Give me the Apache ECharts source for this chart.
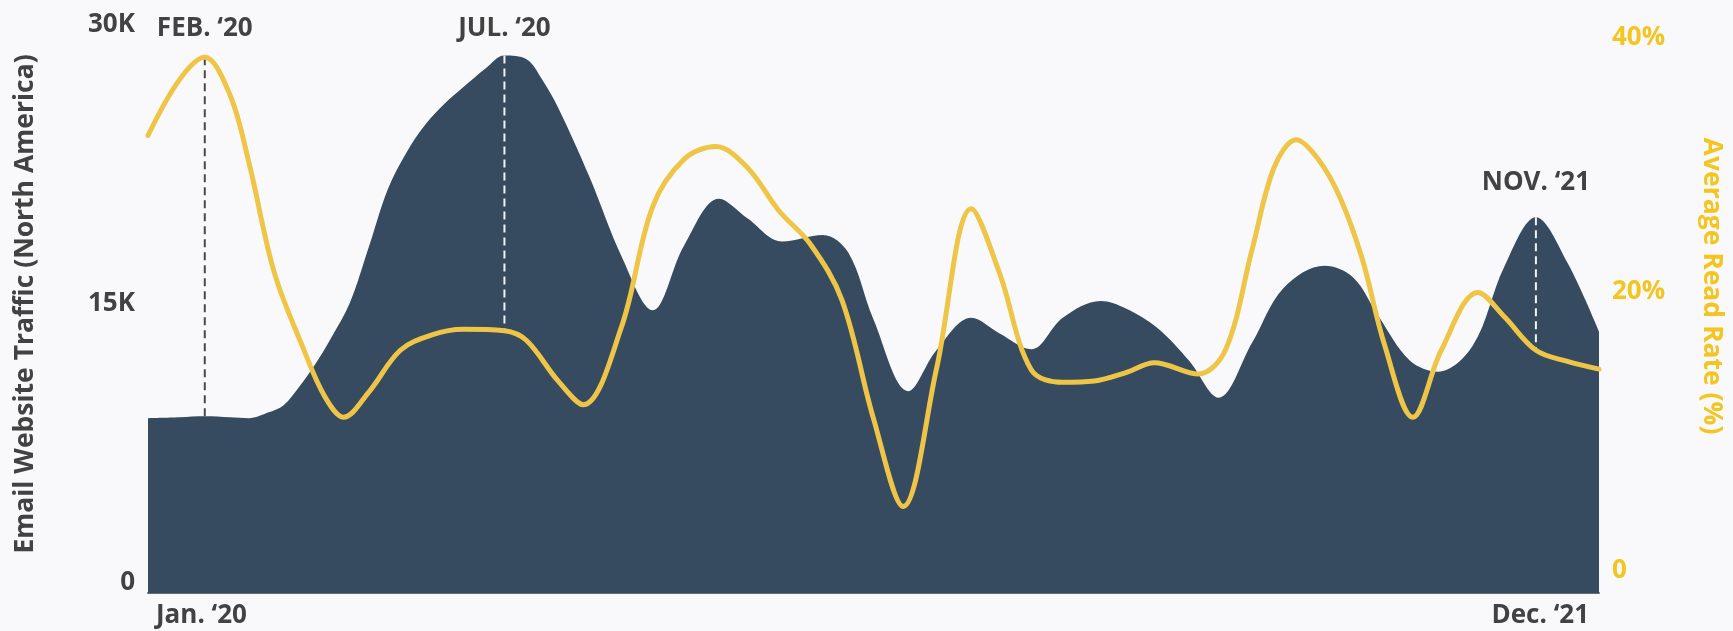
<!DOCTYPE html>
<html>
<head>
<meta charset="utf-8">
<script src="https://cdn.jsdelivr.net/npm/echarts@6/dist/echarts.min.js"></script>
<style>
  html, body { margin: 0; padding: 0; background: #f9f9fb; }
  #chart { width: 1733px; height: 631px; }
</style>
</head>
<body>
<div id="chart"></div>
<script>
// Month index: 0 = Jan. 2020 ... 23 = Dec. 2021
const trafficMonths = [0, 0.5, 0.9, 1.3, 1.6, 1.9, 2.15, 2.4, 2.65, 2.9, 3.2, 3.5, 3.8, 4.1, 4.4, 4.7, 5, 5.35, 5.65, 6, 6.25, 6.5, 7, 7.5, 8, 8.5, 9.05, 9.5, 10.05, 10.7, 11.1, 11.5, 12.05, 12.5, 13.05, 13.5, 14, 14.5, 15.1, 15.5, 16, 16.5, 16.97, 17.5, 18, 18.65, 19.1, 19.5, 20, 20.45, 21, 21.5, 22, 22.5, 23];
// Email website traffic (North America), visits
const trafficValues = [9400, 9450, 9500, 9450, 9400, 9700, 10100, 11100, 12300, 13700, 15600, 18600, 21700, 23700, 25200, 26300, 27200, 28200, 28900, 28700, 27600, 26100, 22350, 18150, 15200, 18700, 21200, 20150, 18900, 19250, 18300, 14700, 10850, 13070, 14800, 13950, 13100, 14800, 15700, 15300, 14250, 12500, 10500, 13450, 16400, 17600, 16980, 14900, 12500, 11900, 13300, 17550, 20200, 17750, 14050];

const rateMonths = [0, 0.5, 0.9, 1.3, 1.6, 2.0, 2.45, 2.8, 3.1, 3.5, 4, 4.5, 5, 5.65, 6, 6.5, 6.9, 7.5, 8, 8.5, 9, 9.5, 10, 10.5, 11, 11.5, 11.97, 12.5, 13.05, 13.5, 14, 14.5, 15, 15.5, 15.95, 16.65, 17.08, 17.5, 17.85, 18.2, 18.55, 18.9, 19.25, 19.6, 20.05, 20.5, 21.08, 21.5, 22, 22.5, 23];
// Average read rate, percent
const rateValues = [32.8, 36.8, 38.4, 35.7, 30.85, 23.0, 17.66, 14.1, 12.6, 14.4, 17.4, 18.5, 18.9, 18.8, 18.1, 15.2, 13.5, 19.0, 27.7, 31.1, 32.0, 30.5, 27.4, 25.0, 21.0, 12.5, 6.2, 16.1, 27.55, 22.9, 16.0, 15.1, 15.2, 15.8, 16.5, 15.7, 17.43, 24.6, 30.5, 32.5, 31.1, 28.3, 23.9, 17.8, 12.6, 17.4, 21.55, 19.8, 17.4, 16.6, 16.05];

const xTickLabels = ['Jan. \u201820', 'Dec. \u201821'];
const trafficTicks = ['0', '15K', '30K'];
const rateTicks = ['0', '20%', '40%'];
const calloutLabels = ['FEB. \u201820', 'JUL. \u201820', 'NOV. \u201821'];
const calloutMonths = [0.9, 5.65, 22];

const NAVY = '#364b5f';
const GOLD = '#efc547';
const GOLD_TEXT = '#f4c520';
const INK = '#424242';
const FONT = '"Open Sans", "Noto Sans", sans-serif';
const LABEL_SIZE = 26;
const TITLE_SIZE = 26.5;

const chart = echarts.init(document.getElementById('chart'), null, { renderer: 'canvas' });

const pairs = (xs, ys) => xs.map((x, i) => [x, ys[i]]);
const tickText = (color, padding) => ({ fontFamily: FONT, fontWeight: 'bold', fontSize: LABEL_SIZE, color, padding });

chart.setOption({
  backgroundColor: '#f9f9fb',
  animation: false,
  grid: { left: 148, right: 128, top: 35, bottom: 38 },
  xAxis: {
    type: 'value', min: 0, max: 23, interval: 23,
    axisLine: { show: true, lineStyle: { color: '#6b6b6b', width: 2 } },
    axisTick: { show: false },
    splitLine: { show: false },
    axisLabel: {
      margin: 10,
      alignMinLabel: 'left', alignMaxLabel: 'right',
      formatter: v => v === 0 ? '{l|' + xTickLabels[0] + '}' : '{r|' + xTickLabels[1] + '}',
      rich: {
        l: tickText(INK, [0, 0, 0, 8]),
        r: tickText(INK, [0, 10, 0, 0])
      }
    }
  },
  yAxis: [
    {
      type: 'value', min: 0, max: 30000, interval: 15000, position: 'left',
      name: 'Email Website Traffic (North America)',
      nameLocation: 'middle', nameRotate: 90, nameGap: 109,
      nameTextStyle: { fontFamily: FONT, fontWeight: 'bold', fontSize: TITLE_SIZE, color: INK, padding: [0, 0, 0, 20] },
      axisLine: { show: false }, axisTick: { show: false }, splitLine: { show: false },
      axisLabel: {
        margin: 13,
        formatter: v => '{t|' + trafficTicks[Math.round(v / 15000)] + '}',
        rich: { t: tickText(INK, [0, 0, 20, 0]) }
      }
    },
    {
      type: 'value', min: 0, max: 40, interval: 20, position: 'right',
      name: 'Average Read Rate (%)',
      nameLocation: 'middle', nameRotate: -90, nameGap: 99,
      nameTextStyle: { fontFamily: FONT, fontWeight: 'bold', fontSize: TITLE_SIZE, color: GOLD_TEXT, padding: [0, 56, 0, 0] },
      axisLine: { show: false }, axisTick: { show: false }, splitLine: { show: false },
      axisLabel: {
        margin: 13,
        formatter: v => v === 40 ? '{hi|' + rateTicks[2] + '}' : '{lo|' + rateTicks[Math.round(v / 20)] + '}',
        rich: {
          hi: tickText(GOLD_TEXT, [5, 0, 0, 0]),
          lo: tickText(GOLD_TEXT, [0, 0, 45, 0])
        }
      }
    }
  ],
  series: [
    {
      name: 'Email Website Traffic', type: 'line', yAxisIndex: 0, z: 1,
      data: pairs(trafficMonths, trafficValues),
      smooth: 0.35, symbol: 'none',
      lineStyle: { width: 0 },
      areaStyle: { color: NAVY, opacity: 1 }
    },
    {
      name: 'Average Read Rate', type: 'line', yAxisIndex: 1, z: 5,
      data: pairs(rateMonths, rateValues),
      smooth: 0.35, symbol: 'none',
      lineStyle: { color: GOLD, width: 5, cap: 'round', join: 'round' }
    }
  ]
});

// Callouts: dashed connector between the two curves plus a month label
function drawCallouts() {
  const elements = [];
  const gridTop = 35;
  calloutMonths.forEach((m, i) => {
    const tv = trafficValues[trafficMonths.indexOf(m)];
    const rv = rateValues[rateMonths.indexOf(m)];
    const pT = chart.convertToPixel({ seriesIndex: 0 }, [m, tv]);
    const pR = chart.convertToPixel({ seriesIndex: 1 }, [m, rv]);
    const rateAbove = pR[1] < pT[1];
    elements.push({
      type: 'line', z: 3,
      shape: { x1: pT[0], y1: pT[1], x2: pT[0], y2: pR[1] },
      style: { stroke: rateAbove ? '#4a4a4a' : '#f2f2f2', lineWidth: 2, lineDash: [8, 5] }
    });
    const labelY = (i === calloutMonths.length - 1) ? pT[1] - 35 : gridTop - 6;
    elements.push({
      type: 'text', z: 6, x: pT[0], y: labelY,
      style: {
        text: calloutLabels[i], fill: INK,
        font: 'bold ' + LABEL_SIZE + 'px ' + FONT,
        align: 'center', verticalAlign: 'middle',
        textAlign: 'center', textVerticalAlign: 'middle'
      }
    });
  });
  chart.setOption({ graphic: { elements } });
}
drawCallouts();
</script>
</body>
</html>
